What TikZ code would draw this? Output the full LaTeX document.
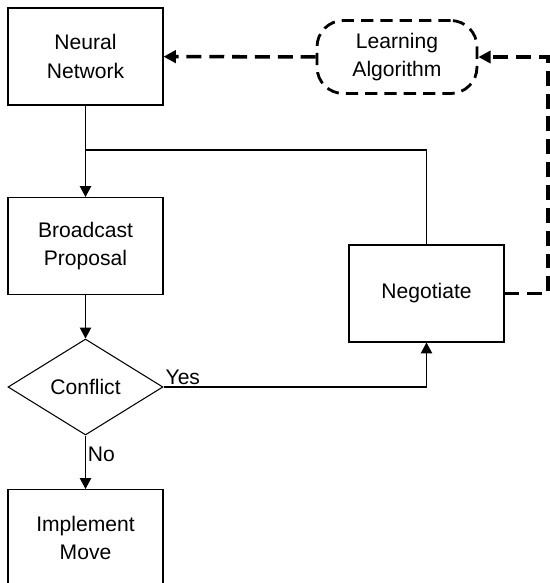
\documentclass[tikz,border=0pt]{standalone}
\usepackage{fontspec}
\setmainfont{Liberation Sans}
\usetikzlibrary{shapes.geometric,arrows.meta}

\begin{document}
\begin{tikzpicture}[x=0.02cm,y=-0.02cm,
    every node/.style={font=\fontsize{12}{16}\selectfont},
    box/.style={draw,line width=0.6pt,minimum width=3.1cm,minimum height=1.94cm,align=center,inner sep=0pt},
    decision/.style={draw,diamond,line width=0.6pt,aspect=1.61,minimum width=3.1cm,minimum height=1.92cm,inner sep=0pt},
    learn/.style={draw,line width=1.6pt,dash pattern=on 7pt off 4pt,rounded corners=15pt,minimum width=3.2cm,minimum height=1.46cm,align=center,inner sep=0pt},
    arr/.style={line width=0.6pt,-{Triangle[length=6.2pt,width=6.5pt]}},
    fb/.style={line width=2pt,dash pattern=on 8.5pt off 4.5pt,-{Triangle[length=7pt,width=7pt]}}]
    \useasboundingbox (0,0) rectangle (550,583);
    \clip (0,0) rectangle (550,583);
    \node[box] (nn) at (85.5,56.5) {Neural\\Network};
    \node[box] (bp) at (85.5,246) {Broadcast\\Proposal};
    \node[decision] (cf) at (85.5,387) {Conflict};
    \node[box] (ng) at (426.5,293.5) {Negotiate};
    \node[box] (im) at (85.5,538) {Implement\\Move};
    \node[learn] (la) at (397,57) {Learning\\Algorithm};
    \coordinate (jn) at (85.5,150);
    \coordinate (rt) at (548,57);
    \draw[arr] (nn) -- (bp);
    \draw[line width=0.6pt] (jn) -| (ng.north);
    \draw[arr] (bp) -- (cf);
    \draw[arr] (cf.east) -| (ng.south);
    \node[anchor=south west,inner sep=1pt] at (cf.east) {Yes};
    \draw[arr] (cf) -- node[pos=0.35,anchor=west,inner sep=1pt] {No} (im);
    \draw[fb] (ng.east) -| (rt) -- (la.east);
    \draw[fb] (la) -- (nn);
\end{tikzpicture}
\end{document}
